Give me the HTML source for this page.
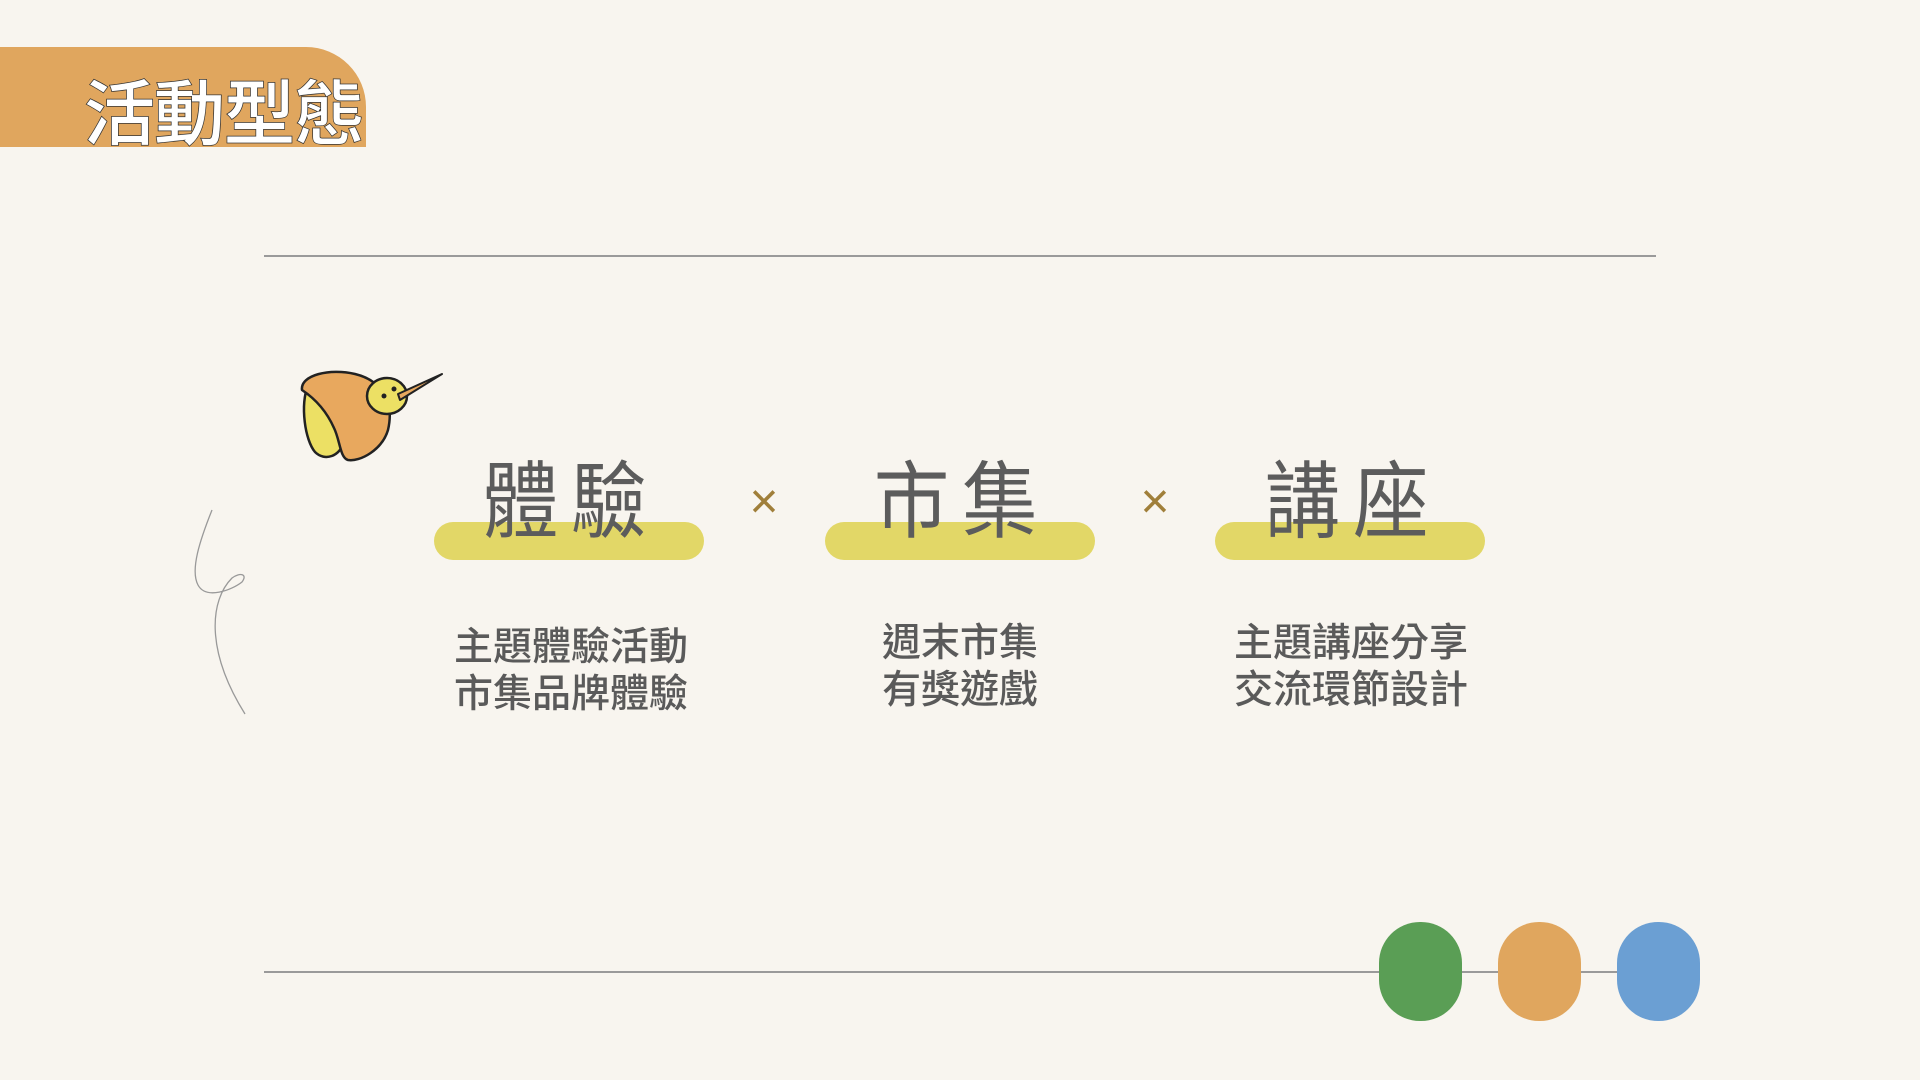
<!DOCTYPE html>
<html><head><meta charset="utf-8"><style>
html,body{margin:0;padding:0}
body{width:1920px;height:1080px;background:#f8f5ef;position:relative;overflow:hidden;font-family:"Liberation Sans","Noto Sans CJK TC",sans-serif}
.banner{position:absolute;left:0;top:47px;width:366px;height:100px;background:#e0a65e;border-radius:0 60px 0 0;overflow:hidden}
.title{position:absolute;left:84px;top:14px;font-size:71px;font-weight:500;color:#fff;-webkit-text-stroke:1.5px #333;paint-order:stroke fill;letter-spacing:-1px;white-space:nowrap;line-height:110px}
.hl{position:absolute;height:2px;background:#9a9a9a;left:264px;width:1392px}
.pill{position:absolute;top:522px;width:270px;height:38px;border-radius:19px;background:#e2d767}
.head{position:absolute;top:454px;width:300px;text-align:center;font-size:84px;line-height:96px;color:#5c5c5c;transform:scaleX(0.9);letter-spacing:14px;white-space:nowrap}
.x{position:absolute;top:476px;font-size:50px;color:#a07f3a;width:40px;text-align:center;line-height:50px}
.sub{position:absolute;top:624px;width:320px;text-align:center;font-size:39px;line-height:47px;color:#5a5a5a;font-weight:500}
.dot{position:absolute;top:922px;width:83px;height:99px;border-radius:41px}
</style></head><body>
<div class="banner"><div class="title">活動型態</div></div>
<div class="hl" style="top:255px"></div>
<div class="hl" style="top:971px"></div>

<svg style="position:absolute;left:0;top:0" width="1920" height="1080">
<path d="M212 510 C200 540,190 570,198 585 C206 600,232 590,242 582 C248 574,240 572,232 578 C210 600,205 650,245 714" fill="none" stroke="#999" stroke-width="1.3"/>
<g stroke="#222" stroke-width="2.5" stroke-linejoin="round">
<path d="M308 385 C300 406,305 440,315 452 C325 462,340 456,344 442 C340 420,330 408,308 385Z" fill="#ece064"/>
<path d="M302 390 C300 375,330 368,355 374 C380 380,395 400,388 430 C382 450,360 462,348 460 C340 458,340 440,334 428 C326 410,314 398,302 390Z" fill="#e8a85e"/>
<ellipse cx="387" cy="396" rx="20" ry="18" fill="#ece064"/>
<path d="M398 394 L442 374 L400 400Z" fill="#e8a85e" stroke-width="2"/>
</g>
<circle cx="384" cy="396" r="2.5" fill="#222"/><circle cx="394" cy="389" r="2.5" fill="#222"/>
</svg>

<div class="pill" style="left:434px"></div>
<div class="pill" style="left:825px"></div>
<div class="pill" style="left:1215px"></div>
<div class="head" style="left:421px">體驗</div>
<div class="head" style="left:812px">市集</div>
<div class="head" style="left:1203px">講座</div>
<div class="x" style="left:744px">×</div>
<div class="x" style="left:1135px">×</div>
<div class="sub" style="left:411px">主題體驗活動<br>市集品牌體驗</div>
<div class="sub" style="left:800px;top:620px">週末市集<br>有獎遊戲</div>
<div class="sub" style="left:1191px;top:620px">主題講座分享<br>交流環節設計</div>

<div class="dot" style="left:1379px;background:#5a9e55"></div>
<div class="dot" style="left:1498px;background:#e0a65e"></div>
<div class="dot" style="left:1617px;background:#6b9fd3"></div>
</body></html>
